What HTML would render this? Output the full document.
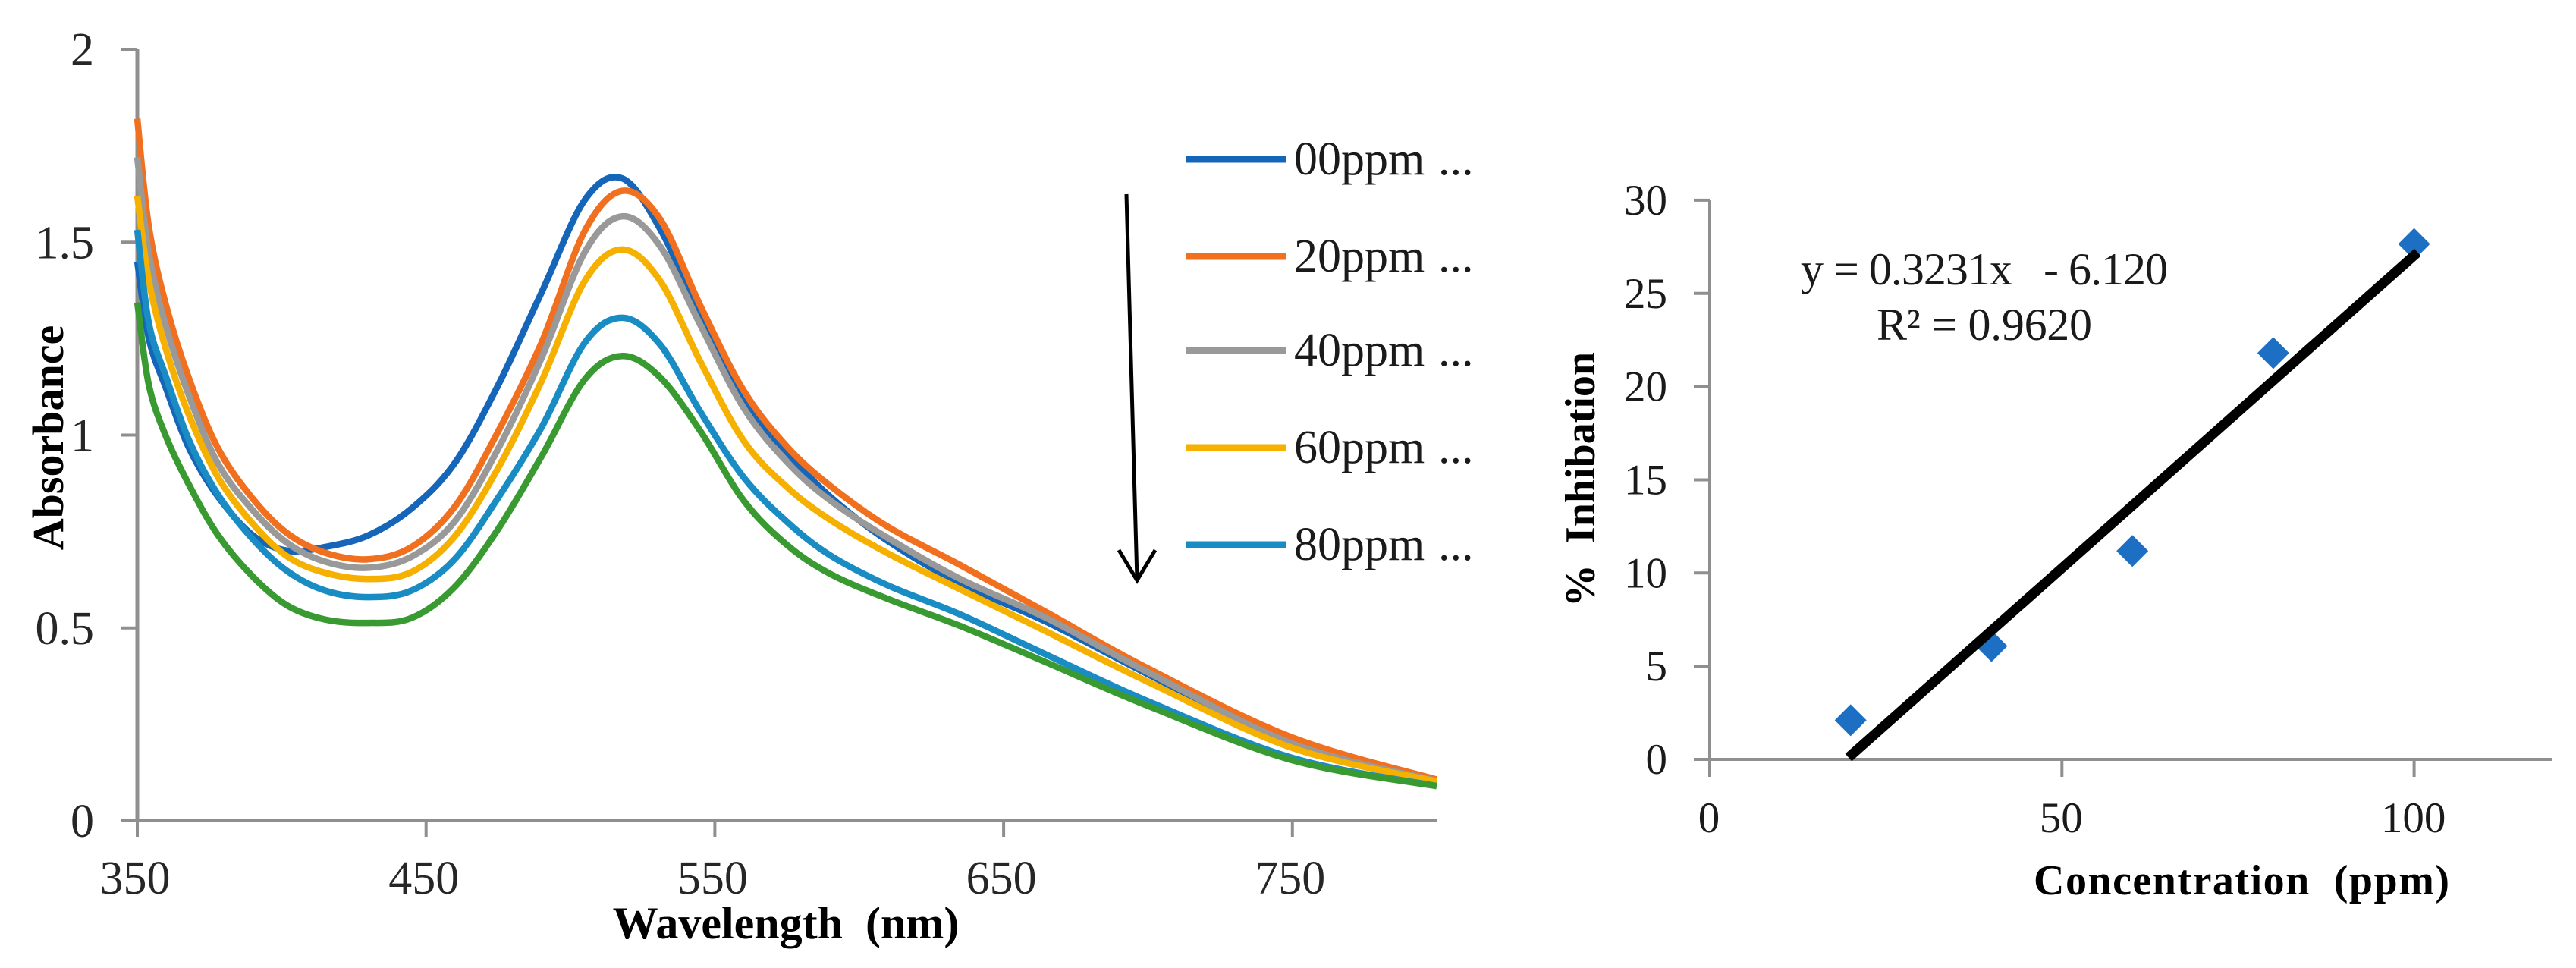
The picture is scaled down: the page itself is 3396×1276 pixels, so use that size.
<!DOCTYPE html>
<html lang="en">
<head>
<meta charset="utf-8">
<title>Absorbance spectra and inhibition plot</title>
<style>
html,body{margin:0;padding:0;background:#fff;}
svg{display:block;}
text{font-family:"Liberation Serif",serif;}
.tick{font-size:62px;fill:#262626;}
.tickr{font-size:57px;fill:#1a1a1a;}
.title{font-weight:bold;fill:#000;}
</style>
</head>
<body>
<svg id="fig" xmlns="http://www.w3.org/2000/svg" width="3396" height="1276" viewBox="0 0 3396 1276">
  <rect width="3396" height="1276" fill="#fff"/>
  <g id="left-chart"></g>
  <g id="right-chart"></g>

  <text class="title" x="1036" y="1237" font-size="60" text-anchor="middle" xml:space="preserve">Wavelength  (nm)</text>
  <text class="title" transform="translate(83,577) rotate(-90)" font-size="58" text-anchor="middle">Absorbance</text>

  <g fill="none" stroke="#000" stroke-width="5">
    <line x1="1485" y1="256" x2="1499" y2="764"/>
    <polyline points="1475,725 1499,765 1523,725"/>
  </g>

  <text class="title" x="2955" y="1179" font-size="56" text-anchor="middle" textLength="548" xml:space="preserve">Concentration  (ppm)</text>
  <text class="title" transform="translate(2102,632) rotate(-90)" font-size="56" text-anchor="middle" xml:space="preserve">%  Inhibation</text>
  <text x="2374" y="375" font-size="60" fill="#1a1a1a" textLength="484" xml:space="preserve">y = 0.3231x   - 6.120</text>
  <text x="2474" y="448" font-size="60" fill="#1a1a1a" textLength="284">R² = 0.9620</text>
</svg>
<script>
// ---- Absorbance spectra data ----
const wavelengths = [350,354,360,368,378,390,402,415,430,445,460,475,490,505,518,531,545,560,575,590,610,635,665,700,750,800];
const abs00 = [1.45,1.25,1.12,.965,.84,.74,.70,.71,.74,.81,.928,1.13,1.37,1.61,1.665,1.535,1.31,1.09,.955,.84,.725,.615,.515,.38,.195,.10];
const abs20 = [1.82,1.54,1.335,1.145,.965,.835,.745,.695,.678,.71,.815,1.01,1.24,1.53,1.633,1.56,1.335,1.115,.97,.868,.762,.663,.54,.395,.216,.107];
const abs40 = [1.72,1.47,1.28,1.10,.925,.805,.72,.672,.656,.685,.777,.965,1.20,1.475,1.567,1.49,1.285,1.07,.93,.83,.733,.627,.525,.385,.20,.103];
const abs60 = [1.62,1.40,1.22,1.05,.89,.77,.685,.643,.627,.645,.738,.915,1.14,1.40,1.481,1.40,1.19,.985,.865,.78,.693,.60,.49,.36,.189,.102];
const abs80 = [1.532,1.29,1.15,.985,.845,.73,.647,.597,.58,.597,.679,.838,1.02,1.24,1.304,1.235,1.06,.89,.775,.688,.61,.535,.43,.31,.163,.09];
const abs100 = [1.344,1.13,.995,.87,.74,.633,.558,.522,.513,.526,.607,.757,.945,1.145,1.205,1.15,1.01,.83,.715,.64,.575,.505,.41,.298,.157,.09];
const legendNames = ["00ppm","20ppm","40ppm","60ppm","80ppm"];
const seriesColors = ["#1565b8","#f07020","#999999","#f5b000","#1a8cc4","#3a9a32"];
const xTicksLeft = [350,450,550,650,750];
const yTicksLeft = [0,0.5,1,1.5,2];

// ---- Inhibition data ----
const concentrations = [20,40,60,80,100];
const inhibition = [2.1,6.08,11.18,21.8,27.65];
const trendX = [19.7,100.5];
const trendY = [0.1,27.2];
const xTicksRight = [0,50,100];
const yTicksRight = [0,5,10,15,20,25,30];

const NS = "http://www.w3.org/2000/svg";
function make(parent, tag, attrs, txt) {
  const el = document.createElementNS(NS, tag);
  for (const k in attrs) el.setAttribute(k, attrs[k]);
  if (txt !== undefined) el.textContent = txt;
  parent.appendChild(el);
  return el;
}

// axis functions
const lx = nm => 181 + (nm - 350) * 3.807;
const ly = a => 1082 - a * 508.5;
const rx = c => 2254 + c * 9.286;
const ry = v => 1001 - v * 24.57;

function smoothPath(xs, ys) {
  const p = xs.map((x, i) => [lx(x), ly(ys[i])]);
  let d = "M" + p[0][0].toFixed(1) + " " + p[0][1].toFixed(1);
  for (let i = 0; i < p.length - 1; i++) {
    const p0 = p[Math.max(0, i - 1)], p1 = p[i], p2 = p[i + 1], p3 = p[Math.min(p.length - 1, i + 2)];
    const c1x = p1[0] + (p2[0] - p0[0]) / 6, c1y = p1[1] + (p2[1] - p0[1]) / 6;
    const c2x = p2[0] - (p3[0] - p1[0]) / 6, c2y = p2[1] - (p3[1] - p1[1]) / 6;
    d += "C" + c1x.toFixed(1) + " " + c1y.toFixed(1) + " " + c2x.toFixed(1) + " " + c2y.toFixed(1) + " " + p2[0].toFixed(1) + " " + p2[1].toFixed(1);
  }
  return d;
}

const AXIS = "#8f8f8f";
const left = document.getElementById("left-chart");
const right = document.getElementById("right-chart");

// ---- left chart axes ----
let el;
el = make(left, "line", {x1: lx(350), x2: lx(350), y1: ly(2), y2: ly(0) + 2, stroke: AXIS, "stroke-width": 5});


el = make(left, "line", {x1: lx(350), x2: lx(800), y1: ly(0), y2: ly(0), stroke: AXIS, "stroke-width": 4});



yTicksLeft.forEach(v => {
  const t = make(left, "line", {x1: 159, x2: lx(350), y1: ly(v), y2: ly(v), stroke: AXIS, "stroke-width": 4});
  
  
  const l = make(left, "text", {x: 124, y: ly(v) + 21, "text-anchor": "end", class: "tick"}, String(v));
  
  
});
xTicksLeft.forEach(v => {
  const t = make(left, "line", {x1: lx(v), x2: lx(v), y1: ly(0), y2: ly(0) + 21, stroke: AXIS, "stroke-width": 4});
  
  
  const l = make(left, "text", {x: lx(v) - 3, y: 1178, "text-anchor": "middle", class: "tick"}, String(v));
  
  
});

// ---- spectra ----
[abs00, abs20, abs40, abs60, abs80, abs100].forEach((vals, i) => {
  const s = make(left, "path", {d: smoothPath(wavelengths, vals), fill: "none", stroke: seriesColors[i], "stroke-width": 8.5, "stroke-linejoin": "round"});
  
  
});

// ---- legend ----
const legendY = [210, 338, 462, 590, 718];
legendNames.forEach((name, i) => {
  const g = make(left, "g", {});
  
  
  const sw = make(g, "line", {x1: 1564, x2: 1695, y1: legendY[i], y2: legendY[i], stroke: seriesColors[i], "stroke-width": 9});
  
  
  const tx = make(g, "text", {x: 1706, y: legendY[i] + 20, "font-size": 62, fill: "#1a1a1a"}, name);
  
  
  const dots = make(g, "text", {x: 1896, y: legendY[i] + 20, "font-size": 62, fill: "#1a1a1a"}, "...");
  
  
});

// ---- right chart axes ----
el = make(right, "line", {x1: rx(0), x2: rx(0), y1: ry(30), y2: ry(0) + 2, stroke: AXIS, "stroke-width": 4});


el = make(right, "line", {x1: rx(0), x2: 3365, y1: ry(0), y2: ry(0), stroke: AXIS, "stroke-width": 4});



yTicksRight.forEach(v => {
  const t = make(right, "line", {x1: 2233, x2: rx(0), y1: ry(v), y2: ry(v), stroke: AXIS, "stroke-width": 4});
  
  
  const l = make(right, "text", {x: 2198, y: ry(v) + 19, "text-anchor": "end", class: "tickr"}, String(v));
  
  
});
xTicksRight.forEach(v => {
  const t = make(right, "line", {x1: rx(v), x2: rx(v), y1: ry(0), y2: ry(0) + 23, stroke: AXIS, "stroke-width": 4});
  
  
  const l = make(right, "text", {x: rx(v) - 1, y: 1097, "text-anchor": "middle", class: "tickr"}, String(v));
  
  
});

// ---- scatter points ----
const R = 21;
concentrations.forEach((c, i) => {
  const cx = rx(c), cy = ry(inhibition[i]);
  const pt = make(right, "polygon", {points: [[cx, cy - R], [cx + R, cy], [cx, cy + R], [cx - R, cy]].map(q => q.join(",")).join(" "), fill: "#1c6fc2"});
  
  
});

// ---- trendline ----
el = make(right, "line", {x1: rx(trendX[0]), y1: ry(trendY[0]), x2: rx(trendX[1]), y2: ry(trendY[1]), stroke: "#000", "stroke-width": 13});


</script>
</body>
</html>
